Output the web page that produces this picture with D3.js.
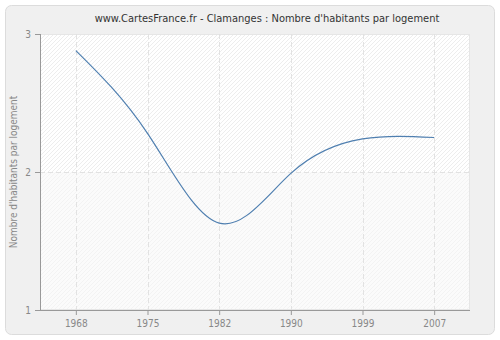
<!DOCTYPE html>
<html>
<head>
<meta charset="utf-8">
<script src="https://cdn.jsdelivr.net/npm/d3@7"></script>
<style>
body { margin: 0; background: #ffffff; }
svg { display: block; }
text { font-family: 'DejaVu Sans Condensed', 'DejaVu Sans', sans-serif; font-stretch: condensed; }
</style>
</head>
<body>
<svg id="chart" width="500" height="340"></svg>
<script>
const title = "www.CartesFrance.fr - Clamanges : Nombre d'habitants par logement";
const yLabel = "Nombre d'habitants par logement";
const years = ["1968", "1975", "1982", "1990", "1999", "2007"];
const values = [2.88, 2.28, 1.63, 1.99, 2.24, 2.25];
const yTicks = [1, 2, 3];

const svg = d3.select("#chart");
const W = 500, H = 340;
const m = { left: 40, right: 30, top: 34, bottom: 30 };

// outer frame
svg.append("rect").attr("x", 5.5).attr("y", 5.5).attr("width", W - 11).attr("height", H - 11)
  .attr("rx", 6).attr("fill", "#f0f0f0").attr("stroke", "#dcdcdc").attr("stroke-width", 1);

const defs = svg.append("defs");
function hatch(id, bg, fg) {
  const p = defs.append("pattern").attr("id", id).attr("patternUnits", "userSpaceOnUse")
    .attr("width", 4).attr("height", 4);
  p.append("rect").attr("width", 4).attr("height", 4).attr("fill", bg);
  p.append("path").attr("d", "M-1,1 l2,-2 M0,4 l4,-4 M3,5 l2,-2").attr("stroke", fg).attr("stroke-width", 0.8);
}
hatch("hatchTop", "#ffffff", "#e9e9e9");
hatch("hatchBot", "#fbfbfb", "#f1f1f1");

const x = d3.scalePoint().domain(years).range([m.left, W - m.right]).padding(0.5);
const y = d3.scaleLinear().domain([1, 3]).range([H - m.bottom, m.top]);

// plot background
svg.append("rect").attr("x", m.left).attr("y", y(3)).attr("width", W - m.right - m.left)
  .attr("height", y(2) - y(3)).attr("fill", "url(#hatchTop)");
svg.append("rect").attr("x", m.left).attr("y", y(2)).attr("width", W - m.right - m.left)
  .attr("height", y(1) - y(2)).attr("fill", "url(#hatchBot)");
svg.append("rect").attr("x", m.left + 0.5).attr("y", y(3) + 0.5).attr("width", W - m.right - m.left - 1)
  .attr("height", y(1) - y(3) - 1).attr("fill", "none").attr("stroke", "#e6e6e6");

// grid
const grid = svg.append("g");
grid.selectAll("line.v").data(years).join("line")
  .attr("x1", d => Math.round(x(d)) + 0.5).attr("x2", d => Math.round(x(d)) + 0.5)
  .attr("y1", y(3)).attr("y2", y(1))
  .attr("stroke", "#e2e2e2").attr("stroke-dasharray", "5,3");
grid.selectAll("line.h").data(yTicks.filter(d => d > 1 && d < 3)).join("line")
  .attr("x1", m.left).attr("x2", W - m.right)
  .attr("y1", d => Math.round(y(d)) + 0.5).attr("y2", d => Math.round(y(d)) + 0.5)
  .attr("stroke", "#e2e2e2").attr("stroke-dasharray", "5,3");

// axes
const xAxis = svg.append("g").attr("transform", `translate(0,${y(1)})`)
  .call(d3.axisBottom(x).tickSize(5).tickPadding(5));
const yAxis = svg.append("g").attr("transform", `translate(${m.left},0)`)
  .call(d3.axisLeft(y).tickValues(yTicks).tickFormat(d3.format("d")).tickSize(5).tickPadding(4));
[xAxis, yAxis].forEach(a => {
  a.select(".domain").attr("stroke", "#999");
  a.selectAll(".tick line").attr("stroke", "#999");
  a.selectAll(".tick text").attr("fill", "#888").attr("font-size", 10)
    .style("font-family", "'DejaVu Sans Condensed', 'DejaVu Sans', sans-serif");
});
xAxis.select(".domain").attr("d", `M${m.left},0.5H${W - m.right}`);
yAxis.select(".domain").attr("d", `M0.5,${y(1)}V${y(3)}`);

// line
const line = d3.line().x((d, i) => x(years[i])).y(d => y(d)).curve(d3.curveNatural);
svg.append("path").datum(values).attr("d", line).attr("fill", "none")
  .attr("stroke", "#4f7fb0").attr("stroke-width", 1.2);

// title
svg.append("text").attr("x", 267).attr("y", 22).attr("text-anchor", "middle")
  .attr("font-size", 11).attr("fill", "#333").text(title);
// y label
svg.append("text").attr("transform", `translate(17,${(y(1) + y(3)) / 2}) rotate(-90)`)
  .attr("text-anchor", "middle").attr("font-size", 10).attr("fill", "#888").text(yLabel);
</script>
</body>
</html>
